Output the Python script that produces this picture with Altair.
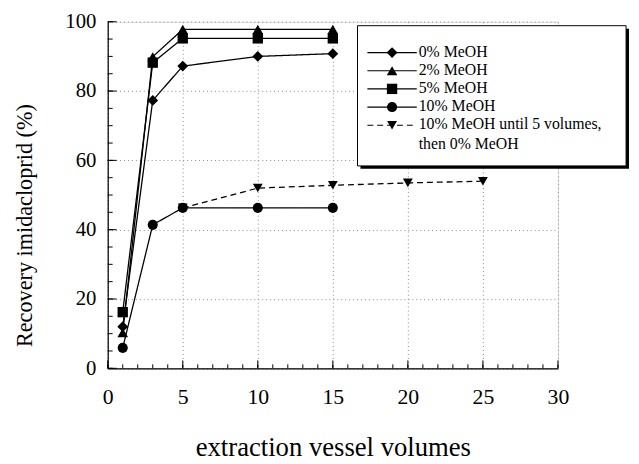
import altair as alt
import pandas as pd

# ---- data ----
volumes = [1, 3, 5, 10, 15]
meoh0 = [12.0, 77.3, 87.2, 90.0, 90.8]
meoh2 = [10.3, 89.9, 97.8, 97.8, 97.8]
meoh5 = [16.2, 88.2, 95.2, 95.2, 95.2]
meoh10 = [5.9, 41.4, 46.3, 46.3, 46.3]
switch_volumes = [5, 10, 15, 20, 25]
switch_values = [46.3, 52.0, 52.8, 53.5, 54.0]

series_names = ["0% MeOH", "2% MeOH", "5% MeOH", "10% MeOH",
                "10% MeOH until 5 volumes, then 0% MeOH"]
legend_texts = ["0% MeOH", "2% MeOH", "5% MeOH", "10% MeOH",
                "10% MeOH until 5 volumes,\nthen 0% MeOH"]
x_tick_labels = [0, 5, 10, 15, 20, 25, 30]
y_tick_labels = [0, 20, 40, 60, 80, 100]
x_minor = list(range(0, 31))
y_minor = list(range(0, 101, 5))

rows = []
for name, vals in zip(series_names[:4], [meoh0, meoh2, meoh5, meoh10]):
    for xv, yv in zip(volumes, vals):
        rows.append({"x": xv, "y": yv, "series": name})
for xv, yv in zip(switch_volumes, switch_values):
    rows.append({"x": xv, "y": yv, "series": series_names[4]})
df = pd.DataFrame(rows)

legend_df = pd.DataFrame({"series": series_names, "text": legend_texts})

FONT = "'Liberation Serif', 'Times New Roman', Times, serif"
W, H = 456, 351

xscale = alt.Scale(domain=[0, 30], nice=False, zero=False)
yscale = alt.Scale(domain=[0, 100], nice=False, zero=False)
xaxis = alt.Axis(values=x_tick_labels, title="extraction vessel volumes",
                 ticks=False, tickSize=0, labelFontSize=22, titleFontSize=27,
                 labelFont=FONT, titleFont=FONT, labelColor="black", titleColor="black",
                 titleFontWeight="normal", labelPadding=19, titlePadding=27,
                 domainColor="black", domainWidth=1.2,
                 grid=True, gridColor="#8a8a8a", gridDash=[1, 3], gridWidth=1,
                 labelFlush=False)
yaxis = alt.Axis(values=y_tick_labels, title="Recovery imidacloprid (%)",
                 ticks=False, tickSize=0, labelFontSize=21, titleFontSize=22.5,
                 labelFont=FONT, titleFont=FONT, labelColor="black", titleColor="black",
                 titleFontWeight="normal", labelPadding=12, titleX=-72, titleY=206,
                 domainColor="black", domainWidth=1.2,
                 grid=True, gridColor="#8a8a8a", gridDash=[1, 3], gridWidth=1,
                 labelFlush=False)

def X():
    return alt.X("x:Q", scale=xscale, axis=xaxis)

def Y():
    return alt.Y("y:Q", scale=yscale, axis=yaxis)

shape_scale = alt.Scale(domain=series_names,
                        range=["diamond", "triangle-up", "square", "circle", "triangle-down"])
size_scale = alt.Scale(domain=series_names, range=[120, 100, 80, 80, 90])
dash_scale = alt.Scale(domain=series_names,
                       range=[[1, 0], [1, 0], [1, 0], [1, 0], [6, 4]])

lines = alt.Chart(df).mark_line(color="black", strokeWidth=1.3).encode(
    x=X(), y=Y(), detail="series:N",
    strokeDash=alt.StrokeDash("series:N", scale=dash_scale, legend=None),
)
points = alt.Chart(df).mark_point(filled=True, color="black", opacity=1).encode(
    x=X(), y=Y(),
    shape=alt.Shape("series:N", scale=shape_scale, legend=None),
    size=alt.Size("series:N", scale=size_scale, legend=None),
)

xt = pd.DataFrame({"x": x_minor})
xt_major = pd.DataFrame({"x": x_tick_labels})
yt = pd.DataFrame({"y": y_minor})
yt_major = pd.DataFrame({"y": y_tick_labels})

xticks = alt.Chart(xt).mark_rule(color="black", strokeWidth=1).encode(
    x=X(), y=alt.value(H), y2=alt.value(H - 4))
xticks_major = alt.Chart(xt_major).mark_rule(color="black", strokeWidth=1).encode(
    x=X(), y=alt.value(H), y2=alt.value(H - 8))
yticks = alt.Chart(yt).mark_rule(color="black", strokeWidth=1).encode(
    y=Y(), x=alt.value(0), x2=alt.value(5))
yticks_major = alt.Chart(yt_major).mark_rule(color="black", strokeWidth=1).encode(
    y=Y(), x=alt.value(0), x2=alt.value(9))

main = alt.layer(xticks, xticks_major, yticks, yticks_major, lines, points)

# ---- legend (drawn by hand: box with drop shadow) ----
one = pd.DataFrame({"a": [0]})
shadow = alt.Chart(one).mark_rect(color="black").encode(
    x=alt.value(256), x2=alt.value(528), y=alt.value(7), y2=alt.value(149))
box = alt.Chart(one).mark_rect(fill="white", stroke="black", strokeWidth=1).encode(
    x=alt.value(253), x2=alt.value(525), y=alt.value(4), y2=alt.value(146))

ly = alt.Y("series:N", sort=series_names,
           scale=alt.Scale(range=[22, 114], padding=0), axis=None)
leg_lines = alt.Chart(legend_df).mark_rule(color="black", strokeWidth=1.2).encode(
    y=ly, x=alt.value(263), x2=alt.value(313),
    strokeDash=alt.StrokeDash("series:N", scale=dash_scale, legend=None))
leg_pts = alt.Chart(legend_df).mark_point(filled=True, color="black", opacity=1).encode(
    y=ly, x=alt.value(288),
    shape=alt.Shape("series:N", scale=shape_scale, legend=None),
    size=alt.Size("series:N", scale=size_scale, legend=None))
leg_text = alt.Chart(legend_df).mark_text(
    align="left", baseline="top", dy=-9, lineBreak="\n", lineHeight=20,
    font=FONT, fontSize=16, color="black").encode(
    y=ly, x=alt.value(315), text="text:N")

legend = alt.layer(shadow, box, leg_lines, leg_pts, leg_text)

chart = alt.layer(main, legend).resolve_scale(y="independent").properties(
    width=W, height=H,
    autosize=alt.AutoSizeParams(type="none"),
    padding={"left": 101, "top": 11, "right": 74, "bottom": 94},
).configure_view(stroke=None).configure(font=FONT)

chart.save("out.html", embed_options={"renderer": "svg", "actions": False})
